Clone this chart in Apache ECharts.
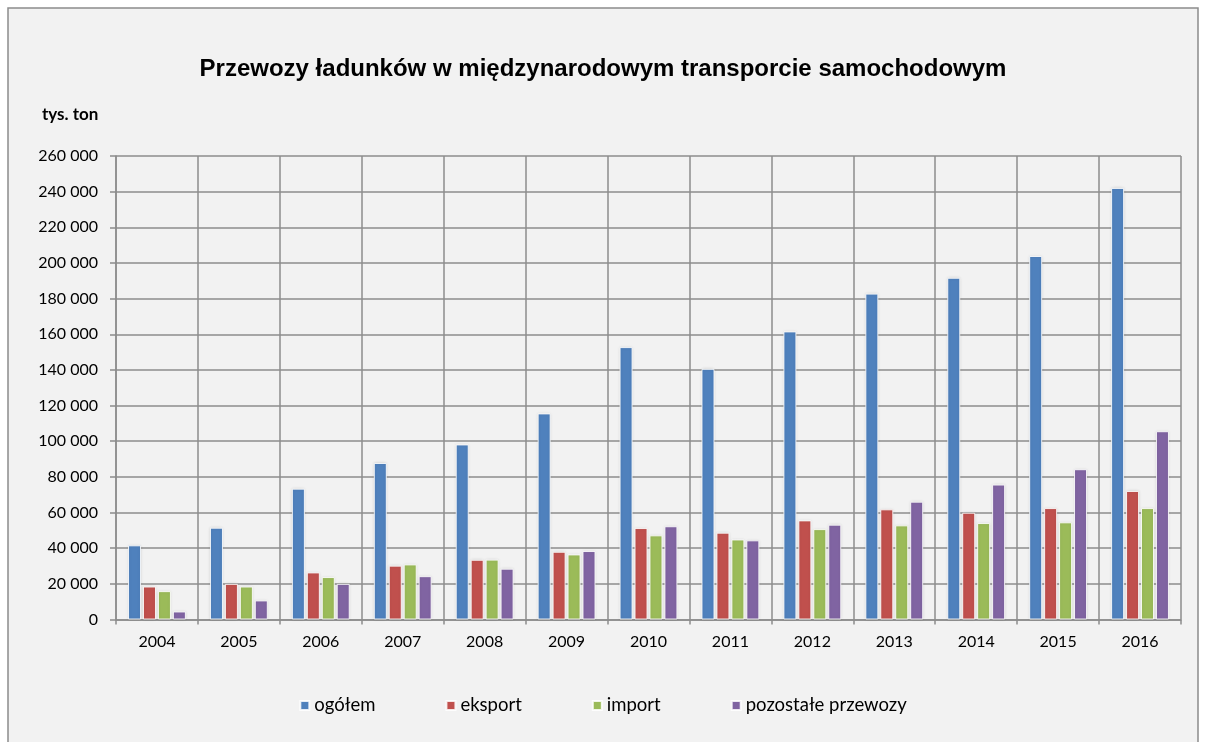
<!DOCTYPE html>
<html>
<head>
<meta charset="utf-8">
<title>Przewozy ładunków</title>
<script src="https://cdn.jsdelivr.net/npm/echarts@6/dist/echarts.min.js"></script>
<style>
  html, body { margin: 0; padding: 0; background: #ffffff; }
  #chart { width: 1206px; height: 742px; }
</style>
</head>
<body>
<div id="chart"></div>
<script>
// lata
var years = ["2004", "2005", "2006", "2007", "2008", "2009", "2010", "2011", "2012", "2013", "2014", "2015", "2016"];
// tys. ton
var ogolem = [41600, 51500, 73400, 87800, 98200, 115600, 152800, 140600, 161600, 182800, 191700, 203900, 242100];
var eksport = [18500, 20000, 26400, 30200, 33500, 38000, 51300, 48700, 55600, 61800, 59900, 62500, 72100];
var importy = [15900, 18500, 23800, 30900, 33600, 36500, 47200, 44900, 50700, 52800, 54100, 54500, 62500];
var pozostale = [4500, 10700, 20000, 24300, 28500, 38400, 52300, 44400, 53200, 66100, 75700, 84300, 105600];
var seriesNames = ["ogółem", "eksport", "import", "pozostałe przewozy"];
var colors = ["#4f81bd", "#c0504d", "#9bbb59", "#8064a2"];

var chart = echarts.init(document.getElementById("chart"));

function barSeries(name, data) {
  return {
    name: name,
    type: "bar",
    data: data,
    barWidth: 13,
    barGap: "15%",
    itemStyle: {
      borderColor: "rgba(255,255,255,0.85)",
      borderWidth: 1,
      shadowColor: "rgba(0,0,0,0.12)",
      shadowBlur: 3,
    },
  };
}

chart.setOption({
  backgroundColor: "#ffffff",
  color: colors,
  animation: false,
  textStyle: { fontFamily: "Lato", color: "#000" },
  graphic: [
    {
      type: "rect",
      z: -10,
      shape: { x: 8, y: 8, width: 1190, height: 760 },
      style: { fill: "#f2f2f2", stroke: "#8c8c8c", lineWidth: 1.5 },
    },
  ],
  title: [
    {
      text: "Przewozy ładunków w międzynarodowym transporcie samochodowym",
      left: "center",
      top: 52,
      textStyle: {
        fontFamily: "Liberation Sans",
        fontWeight: "bold",
        fontSize: 24,
        color: "#000",
      },
    },
    {
      text: "tys. ton",
      left: 37,
      top: 101,
      textStyle: {
        fontFamily: "Lato",
        fontWeight: "bold",
        fontSize: 17,
        color: "#000",
      },
    },
  ],
  legend: {
    data: seriesNames,
    left: "center",
    top: 691,
    itemWidth: 9,
    itemHeight: 9,
    itemGap: 70,
    icon: "rect",
    textStyle: { fontFamily: "Lato", fontSize: 18.5, color: "#000" },
  },
  grid: { left: 116, right: 25, top: 156, bottom: 122.5, containLabel: false },
  xAxis: {
    type: "category",
    data: years,
    boundaryGap: true,
    axisLine: { lineStyle: { color: "#8c8c8c", width: 1.5 } },
    axisTick: { show: true, length: 5, lineStyle: { color: "#8c8c8c", width: 1.5 } },
    axisLabel: { fontSize: 16, margin: 14, color: "#000" },
    splitLine: { show: true, lineStyle: { color: "#8c8c8c", width: 1.5 } },
  },
  yAxis: {
    type: "value",
    min: 0,
    max: 260000,
    interval: 20000,
    axisLine: { show: true, lineStyle: { color: "#8c8c8c", width: 1.5 } },
    axisTick: { show: true, length: 6, lineStyle: { color: "#8c8c8c", width: 1.5 } },
    axisLabel: {
      fontSize: 16,
      margin: 18,
      color: "#000",
      formatter: function (v) {
        return String(v).replace(/\B(?=(\d{3})+(?!\d))/g, " ");
      },
    },
    splitLine: { show: true, lineStyle: { color: "#8c8c8c", width: 1.5 } },
  },
  series: [
    barSeries(seriesNames[0], ogolem),
    barSeries(seriesNames[1], eksport),
    barSeries(seriesNames[2], importy),
    barSeries(seriesNames[3], pozostale),
  ],
});
</script>
</body>
</html>
